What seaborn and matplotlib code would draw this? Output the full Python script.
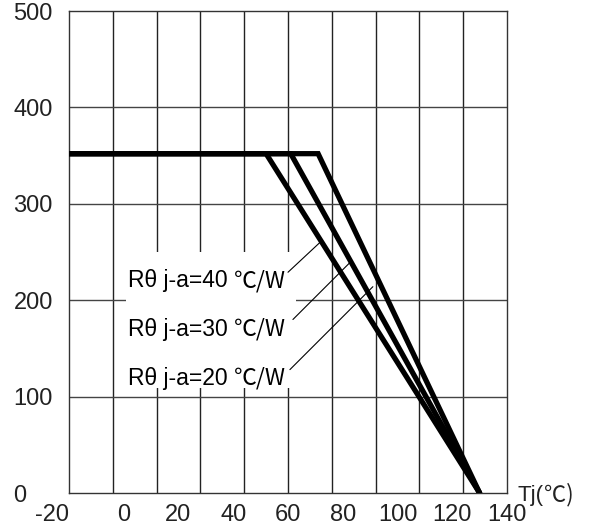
import numpy as np
import pandas as pd
import seaborn as sns
import matplotlib
matplotlib.use("Agg")
import matplotlib.pyplot as plt
from matplotlib.patches import Rectangle
from matplotlib.transforms import offset_copy

# ---- data ----
rth_values = [40, 30, 20]          # R theta j-a (degC/W)
knee_tj = [52, 61, 71]             # Tj where derating starts
flat_power = 352                   # plateau value
start_tj = -20
end_tj = 130                       # Tj where curves reach zero

x_ticks = [-20, 0, 20, 40, 60, 80, 100, 120, 140]
y_ticks = [0, 100, 200, 300, 400, 500]
label_heads = ["Rθ j-a=40 ", "Rθ j-a=30 ", "Rθ j-a=20 "]
label_unit = "℃/W"
label_y = [220, 170, 119]
leader_start = [(60.0, 229), (61.8, 180), (60.7, 128)]
leader_end = [(71.7, 260), (82.6, 239), (91.0, 214)]

rows = []
for r, k in zip(rth_values, knee_tj):
    rows += [(r, start_tj, flat_power), (r, k, flat_power), (r, end_tj, 0)]
df = pd.DataFrame(rows, columns=["Rth", "Tj", "P"])

sns.set_theme(style="white")
plt.rcParams["font.family"] = ["Liberation Sans", "DejaVu Sans"]

fig = plt.figure(figsize=(5.95, 5.32), dpi=100)
ax = fig.add_axes([69 / 595, 39 / 532, 438 / 595, 482 / 532])

sns.lineplot(data=df, x="Tj", y="P", hue="Rth", palette=["black"] * 3,
             sort=False, legend=False, ax=ax, linewidth=3.8,
             solid_capstyle="round", solid_joinstyle="miter", zorder=3)

ax.set_xlim(-20, 140)
ax.set_ylim(0, 500)
ax.set_xticks(x_ticks)
ax.set_yticks(y_ticks)
ax.grid(False)
for xv in np.linspace(-20, 140, 11)[1:-1]:
    ax.axvline(xv, color="#222222", lw=1.0, zorder=0.5)
for yv in y_ticks[1:-1]:
    ax.axhline(yv, color="#444444", lw=1.0, zorder=0.5)
for s in ax.spines.values():
    s.set_color("#333333")
    s.set_linewidth(1.0)
ax.set_xlabel("")
ax.set_ylabel("")

ax.tick_params(axis="both", which="both", length=0, labelsize=17, colors="#222222")
ax.tick_params(axis="x", pad=8)
ax.tick_params(axis="y", pad=40)
for t in ax.get_yticklabels():
    t.set_horizontalalignment("left")
ax.set_xticklabels([str(v) for v in x_ticks])
ax.get_xticklabels()[0].set_horizontalalignment("right")

# white box behind annotation text
ax.add_patch(Rectangle((0.8, 109), 62.1, 141, facecolor="white",
                       edgecolor="none", zorder=1))

fig.canvas.draw()
renderer = fig.canvas.get_renderer()
for head, yv, (x0, y0), (x1, y1) in zip(label_heads, label_y, leader_start, leader_end):
    t1 = ax.text(1.5, yv, head, fontsize=16.5, va="center", ha="left",
                 color="black", zorder=4)
    bb = t1.get_window_extent(renderer=renderer)
    w_pts = bb.width * 72 / fig.dpi
    tr = offset_copy(ax.transData, fig=fig, x=w_pts, y=0, units="points")
    ax.text(1.5, yv, label_unit, fontsize=16.5, va="center", ha="left",
            color="black", zorder=4, transform=tr,
            family=["Noto Sans CJK JP", "DejaVu Sans"])
    ax.plot([x0, x1], [y0, y1], color="black", lw=0.8, zorder=4)

t2 = fig.text(518 / 595, 1 - 495 / 532, "Tj(", fontsize=16, va="center",
              ha="left", color="#222222")
bb2 = t2.get_window_extent(renderer=renderer)
fig.text(bb2.x1 / 595, 1 - 495 / 532, "℃)", fontsize=16, va="center",
         ha="left", color="#222222", family=["Noto Sans CJK JP", "DejaVu Sans"])

fig.savefig("out.png", dpi=100)
